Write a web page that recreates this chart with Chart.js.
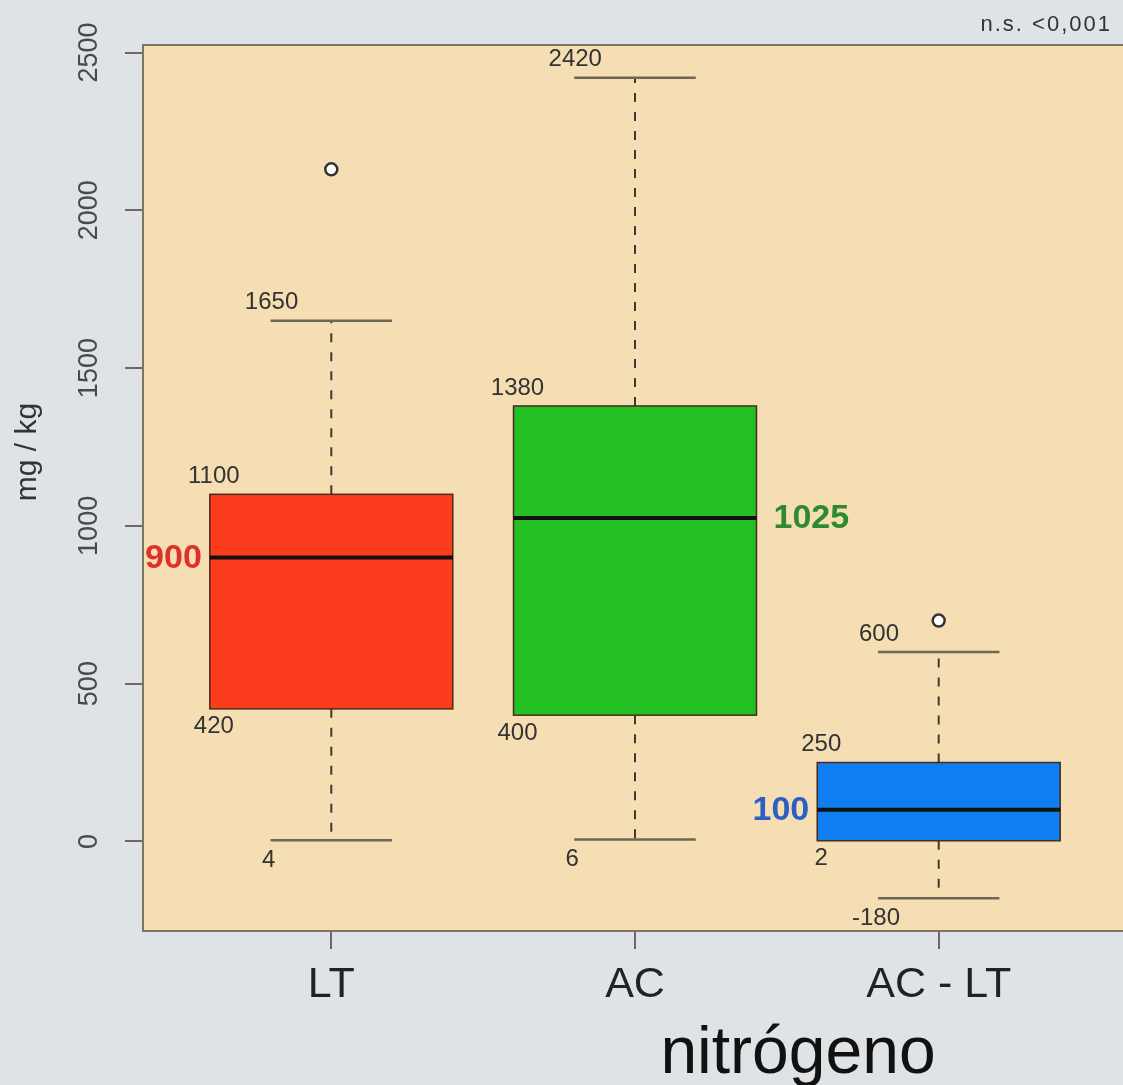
<!DOCTYPE html>
<html>
<head>
<meta charset="utf-8">
<script src="https://cdn.jsdelivr.net/npm/chart.js@4.4.1/dist/chart.umd.min.js"></script>
<style>
  html, body { margin: 0; padding: 0; overflow: hidden; background: #dfe3e6; }
  #wrap { width: 1127px; height: 1085px; }
</style>
</head>
<body>
<div id="wrap"><canvas id="c" width="1127" height="1085"></canvas></div>
<script>
// ---- data ----
const categories   = ['LT', 'AC', 'AC - LT'];
const whiskerLow   = [4, 6, -180];
const q1           = [420, 400, 2];
const median       = [900, 1025, 100];
const q3           = [1100, 1380, 250];
const whiskerHigh  = [1650, 2420, 600];
const outlierGroup = [1, 3];
const outlierValue = [2130, 700];
const yTicks       = [0, 500, 1000, 1500, 2000, 2500];
const yTitle       = 'mg / kg';
const xTitle       = 'nitrógeno';
const noteText     = 'n.s. <0,001';

// ---- styles ----
const boxColors    = ['#fb3d1e', '#22c022', '#0f7ef0'];
const medianColors = ['#e0302a', '#2f8a2f', '#2d5fc2'];
const medianSide   = ['left', 'right', 'left'];
const FONT = "'Liberation Sans', Arial, Helvetica, sans-serif";

const boxPlugin = {
  id: 'boxplot',
  beforeDraw(chart) {
    const { ctx, chartArea: a } = chart;
    ctx.save();
    ctx.fillStyle = '#f5deb3';
    ctx.fillRect(a.left, a.top, a.right - a.left, a.bottom - a.top);
    ctx.restore();
  },
  beforeDatasetsDraw(chart) {
    const { ctx } = chart;
    const xs = chart.scales.x, ys = chart.scales.y;
    const halfBox = 0.4, halfCap = 0.2;
    categories.forEach((cat, i) => {
      const g = i + 1;
      const cx = xs.getPixelForValue(g);
      const bl = xs.getPixelForValue(g - halfBox), br = xs.getPixelForValue(g + halfBox);
      const cl = xs.getPixelForValue(g - halfCap), cr = xs.getPixelForValue(g + halfCap);
      const yLo = ys.getPixelForValue(whiskerLow[i]);
      const yQ1 = ys.getPixelForValue(q1[i]);
      const yMd = ys.getPixelForValue(median[i]);
      const yQ3 = ys.getPixelForValue(q3[i]);
      const yHi = ys.getPixelForValue(whiskerHigh[i]);
      ctx.save();
      // whiskers (dashed)
      ctx.strokeStyle = '#3d3a35';
      ctx.lineWidth = 2;
      ctx.setLineDash([9, 10]);
      ctx.beginPath();
      ctx.moveTo(cx, yQ3); ctx.lineTo(cx, yHi);
      ctx.moveTo(cx, yQ1); ctx.lineTo(cx, yLo);
      ctx.stroke();
      ctx.setLineDash([]);
      // caps
      ctx.strokeStyle = '#6e6658';
      ctx.lineWidth = 2.5;
      ctx.beginPath();
      ctx.moveTo(cl, yHi); ctx.lineTo(cr, yHi);
      ctx.moveTo(cl, yLo); ctx.lineTo(cr, yLo);
      ctx.stroke();
      // box
      ctx.fillStyle = boxColors[i];
      ctx.fillRect(bl, yQ3, br - bl, yQ1 - yQ3);
      ctx.strokeStyle = '#4a2a1a';
      ctx.lineWidth = 1.5;
      ctx.strokeRect(bl, yQ3, br - bl, yQ1 - yQ3);
      // median
      ctx.strokeStyle = '#111';
      ctx.lineWidth = 4;
      ctx.beginPath();
      ctx.moveTo(bl, yMd); ctx.lineTo(br, yMd);
      ctx.stroke();
      // value labels
      ctx.fillStyle = '#333';
      ctx.font = '24px ' + FONT;
      ctx.textAlign = 'center';
      ctx.textBaseline = 'bottom';
      ctx.fillText(String(whiskerHigh[i]), cl + 1, yHi - 6);
      ctx.fillText(String(q3[i]), bl + 4, yQ3 - 6);
      ctx.textBaseline = 'top';
      ctx.fillText(String(q1[i]), bl + 4, yQ1 + 6);
      ctx.fillText(String(whiskerLow[i]), cl - 2, yLo + 8);
      // median label
      ctx.font = 'bold 34px ' + FONT;
      ctx.fillStyle = medianColors[i];
      ctx.textBaseline = 'middle';
      if (medianSide[i] === 'left') {
        ctx.textAlign = 'right';
        ctx.fillText(String(median[i]), bl - 8, yMd + 1);
      } else {
        ctx.textAlign = 'left';
        ctx.fillText(String(median[i]), br + 17, yMd + 1);
      }
      ctx.restore();
    });
  },
  afterDraw(chart) {
    const { ctx, chartArea: a } = chart;
    const xs = chart.scales.x, ys = chart.scales.y;
    ctx.save();
    // top border
    ctx.strokeStyle = '#7d7566';
    ctx.lineWidth = 2;
    ctx.beginPath();
    ctx.moveTo(a.left - 1, a.top); ctx.lineTo(a.right, a.top);
    ctx.stroke();
    // y tick labels (rotated)
    ctx.fillStyle = '#4a4a4a';
    ctx.font = '27px ' + FONT;
    ctx.textAlign = 'center';
    ctx.textBaseline = 'middle';
    ys.ticks.forEach(t => {
      const y = ys.getPixelForValue(t.value);
      ctx.save();
      ctx.translate(90, y);
      ctx.rotate(-Math.PI / 2);
      ctx.fillText(String(t.value), 0, 0);
      ctx.restore();
    });
    // y title
    ctx.save();
    ctx.fillStyle = '#333';
    ctx.font = '30px ' + FONT;
    ctx.translate(28, 452);
    ctx.rotate(-Math.PI / 2);
    ctx.fillText(yTitle, 0, 0);
    ctx.restore();
    // x tick labels
    ctx.fillStyle = '#222';
    ctx.font = '43px ' + FONT;
    ctx.textBaseline = 'alphabetic';
    categories.forEach((c, i) => {
      ctx.fillText(c, xs.getPixelForValue(i + 1), 997);
    });
    // x title
    ctx.fillStyle = '#111';
    ctx.font = '66px ' + FONT;
    ctx.fillText(xTitle, 798, 1073);
    // note
    ctx.fillStyle = '#333';
    ctx.font = '22px ' + FONT;
    ctx.textAlign = 'right';
    try { ctx.letterSpacing = '2px'; } catch (e) {}
    ctx.fillText(noteText, 1112, 31);
    ctx.restore();
  }
};

new Chart(document.getElementById('c'), {
  type: 'scatter',
  data: {
    datasets: [{
      data: outlierGroup.map((g, i) => ({ x: g, y: outlierValue[i] })),
      pointRadius: 6,
      pointHoverRadius: 6,
      pointBorderWidth: 2.5,
      pointBackgroundColor: '#ffffff',
      pointBorderColor: '#333333'
    }]
  },
  options: {
    responsive: false,
    animation: false,
    devicePixelRatio: 1,
    layout: { autoPadding: false, padding: { top: 45, left: 0, right: 0, bottom: 0 } },
    plugins: { legend: { display: false }, tooltip: { enabled: false } },
    scales: {
      x: {
        type: 'linear',
        min: 0.38,
        max: 3.62,
        afterBuildTicks: s => { s.ticks = categories.map((c, i) => ({ value: i + 1 })); },
        afterFit: s => { s.height = 154; },
        ticks: { display: false },
        grid: { drawOnChartArea: false, drawTicks: true, tickLength: 18, color: '#6a6a6a', lineWidth: 2 },
        border: { display: true, color: '#7d7566', width: 2 }
      },
      y: {
        type: 'linear',
        min: -284,
        max: 2524,
        afterBuildTicks: s => { s.ticks = yTicks.map(v => ({ value: v })); },
        afterFit: s => { s.width = 143; },
        ticks: { display: false },
        grid: { drawOnChartArea: false, drawTicks: true, tickLength: 18, color: '#6a6a6a', lineWidth: 2 },
        border: { display: true, color: '#7d7566', width: 2 }
      }
    }
  },
  plugins: [boxPlugin]
});
</script>
</body>
</html>
